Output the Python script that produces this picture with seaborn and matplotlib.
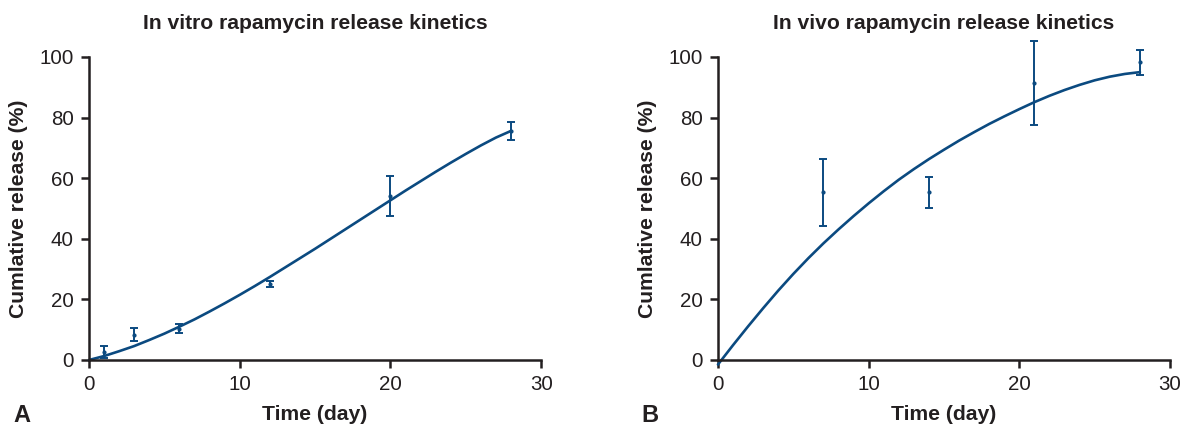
import numpy as np
import pandas as pd
import matplotlib
matplotlib.use('Agg')
import matplotlib.pyplot as plt
import seaborn as sns

# Measured points (mean +/- error)
vitro_day = [1, 3, 6, 12, 20, 28]
vitro_mean = [2.5, 8.4, 10.3, 25.1, 54.2, 75.6]
vitro_err = [2.0, 2.0, 1.5, 1.1, 6.6, 3.1]

vivo_day = [7, 14, 21, 28]
vivo_mean = [55.3, 55.3, 91.4, 98.2]
vivo_err = [11.1, 5.2, 14.0, 4.1]

# Fitted curves
fit_day = list(range(0, 29))
vitro_fit = [0, 1.3, 2.9, 4.6, 6.6, 8.7, 11.0, 13.4, 16.0, 18.7, 21.5, 24.4, 27.4, 30.5, 33.6,
             36.7, 39.9, 43.1, 46.3, 49.5, 52.7, 55.9, 59.0, 62.1, 65.1, 68.0, 70.8, 73.4, 75.6]
vivo_fit = [-1.5, 4.9, 11.1, 17.1, 22.9, 28.4, 33.6, 38.5, 43.1, 47.5, 51.7, 55.7, 59.5, 63.0, 66.3,
            69.4, 72.4, 75.2, 77.9, 80.4, 82.8, 85.1, 87.2, 89.1, 90.8, 92.3, 93.5, 94.4, 95.0]

titles = ['In vitro rapamycin release kinetics', 'In vivo rapamycin release kinetics']
panel_tags = ['A', 'B']

sns.set_style('ticks')
plt.rcParams['font.family'] = ['Liberation Sans', 'DejaVu Sans']

blue = '#0b4a80'
ink = '#231f20'

fig = plt.figure(figsize=(11.93, 4.30), dpi=100)
ax1 = fig.add_axes([0.0746, 0.1628, 0.379, 0.7047])
ax2 = fig.add_axes([0.6018, 0.1628, 0.379, 0.7047])

panels = [
    (ax1, vitro_day, vitro_mean, vitro_err, vitro_fit),
    (ax2, vivo_day, vivo_mean, vivo_err, vivo_fit),
]

for i, (ax, d, m, e, fv) in enumerate(panels):
    fit_df = pd.DataFrame({'day': fit_day, 'release': fv})
    sns.lineplot(data=fit_df, x='day', y='release', ax=ax, color=blue, linewidth=1.9)
    for ln in ax.lines:
        ln.set_clip_on(False)
        ln.set_solid_joinstyle('round')
    eb = ax.errorbar(d, m, yerr=e, fmt='o', markersize=2, color=blue, ecolor=blue,
                     elinewidth=1.4, capsize=3, capthick=1.4, clip_on=False)
    for art in eb.lines[1] + eb.lines[2]:
        art.set_clip_on(False)
    eb.lines[0].set_clip_on(False)

    ax.set_xlim(0, 30)
    ax.set_ylim(0, 100)
    ax.set_xticks([0, 10, 20, 30])
    ax.set_yticks([0, 20, 40, 60, 80, 100])
    sns.despine(ax=ax)
    for side in ['left', 'bottom']:
        ax.spines[side].set_linewidth(1.8)
        ax.spines[side].set_color(ink)
    ax.tick_params(axis='both', length=6, width=1.8, color=ink, labelsize=14.8,
                   labelcolor=ink, pad=5)
    ax.set_xlabel('Time (day)', fontsize=15.2, fontweight='bold', color=ink, labelpad=8)
    ax.set_ylabel('Cumlative release (%)', fontsize=15.2, fontweight='bold', color=ink, labelpad=8)
    ax.set_title(titles[i], fontsize=15.2, fontweight='bold', color=ink, pad=20)

fig.text(0.011, 0.018, panel_tags[0], fontsize=17, fontweight='bold', color=ink)
fig.text(0.538, 0.018, panel_tags[1], fontsize=17, fontweight='bold', color=ink)

fig.savefig('out.png', dpi=100)
